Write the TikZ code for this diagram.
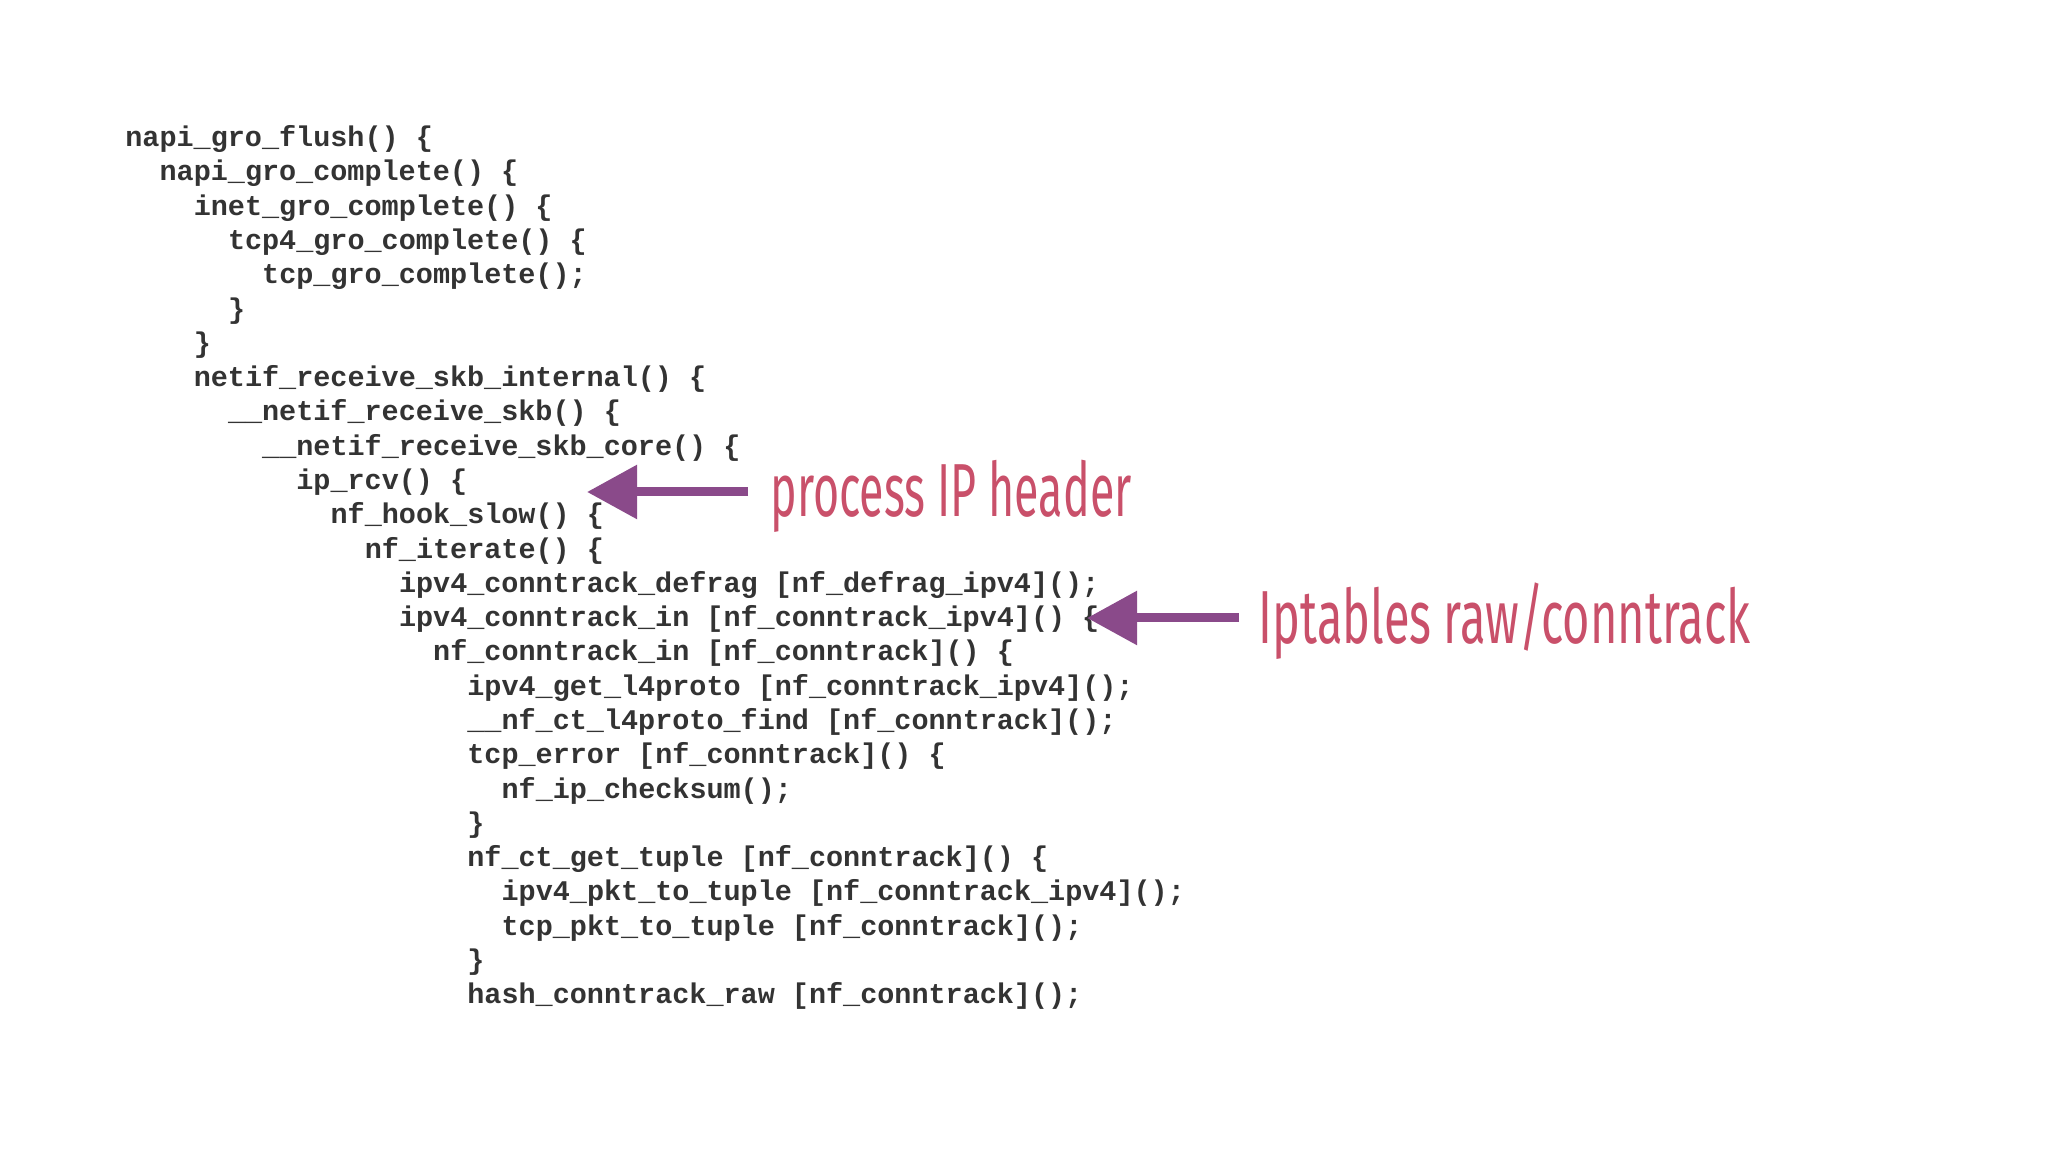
\documentclass[tikz,border=0pt]{standalone}
\usepackage{fontspec}
\setmonofont{Liberation Mono}
\newfontfamily\labfont{Fira Sans}
\usetikzlibrary{arrows.meta}
\definecolor{codec}{HTML}{333333}
\definecolor{labc}{HTML}{C9506A}
\definecolor{arrc}{HTML}{8A4A8A}
\tikzset{
  codeline/.style={anchor=west,inner sep=0pt,text height=0.7em,text depth=0.2em,font=\fontsize{8.1pt}{10pt}\ttfamily\bfseries,text=codec},
  lab/.style={anchor=west,inner sep=0pt,text=labc},
  pointer/.style={draw=arrc,line width=0.09cm,-{Triangle[length=0.5cm,width=0.52cm]}}
}
\begin{document}
\begin{tikzpicture}[x=1cm,y=1cm]
\useasboundingbox (0,0) rectangle (20.48,11.52);
\foreach \i/\ind/\t [count=\n] in {
0/0/{napi\_gro\_flush() \{},
1/2/{napi\_gro\_complete() \{},
2/4/{inet\_gro\_complete() \{},
3/6/{tcp4\_gro\_complete() \{},
4/8/{tcp\_gro\_complete();},
5/6/{\}},
6/4/{\}},
7/4/{netif\_receive\_skb\_internal() \{},
8/6/{\_\_netif\_receive\_skb() \{},
9/8/{\_\_netif\_receive\_skb\_core() \{},
10/10/{ip\_rcv() \{},
11/12/{nf\_hook\_slow() \{},
12/14/{nf\_iterate() \{},
13/16/{ipv4\_conntrack\_defrag [nf\_defrag\_ipv4]();},
14/16/{ipv4\_conntrack\_in [nf\_conntrack\_ipv4]() \{},
15/18/{nf\_conntrack\_in [nf\_conntrack]() \{},
16/20/{ipv4\_get\_l4proto [nf\_conntrack\_ipv4]();},
17/20/{\_\_nf\_ct\_l4proto\_find [nf\_conntrack]();},
18/20/{tcp\_error [nf\_conntrack]() \{},
19/22/{nf\_ip\_checksum();},
20/20/{\}},
21/20/{nf\_ct\_get\_tuple [nf\_conntrack]() \{},
22/22/{ipv4\_pkt\_to\_tuple [nf\_conntrack\_ipv4]();},
23/22/{tcp\_pkt\_to\_tuple [nf\_conntrack]();},
24/20/{\}},
25/20/{hash\_conntrack\_raw [nf\_conntrack]();}}
  \node[codeline] (l\i) at ({1.247+0.171*\ind},{11.52-1.378-0.3429*\i}) {\t};

\node[lab] (lab1) at (7.70,6.56) {\resizebox{3.61cm}{\height}{\fontsize{21.4pt}{24pt}\labfont process IP header}};
\node[lab] (lab2) at (12.58,5.31) {\resizebox{4.92cm}{\height}{\fontsize{21.4pt}{24pt}\labfont Iptables raw/conntrack}};
\coordinate (t1) at (5.87,6.60);
\coordinate (t2) at (10.87,5.34);
\draw[pointer] ([xshift=-0.22cm]lab1.west |- t1) -- (t1);
\draw[pointer] ([xshift=-0.19cm]lab2.west |- t2) -- (t2);
\end{tikzpicture}
\end{document}
